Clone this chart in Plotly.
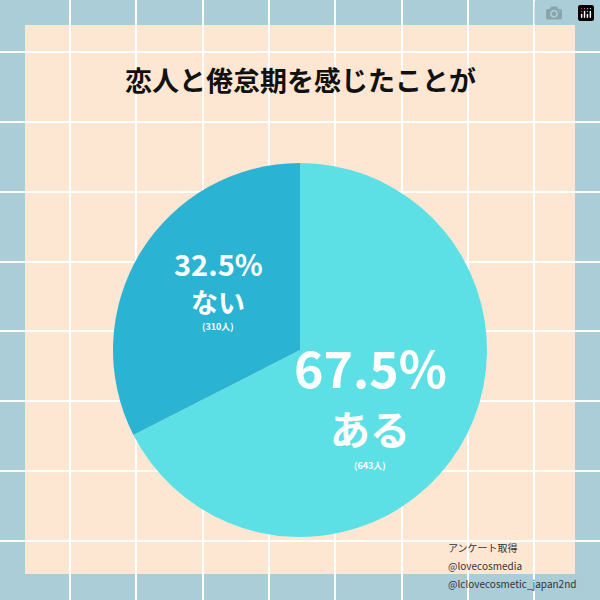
import plotly.graph_objects as go

labels = ["ある", "ない"]
values = [67.5, 32.5]
counts = ["643人", "310人"]
colors = ["#5ce0e6", "#2bb3d4"]
title = "恋人と倦怠期を感じたことが"
credits = ["アンケート取得", "@lovecosmedia", "@lclovecosmetic_japan2nd"]

W = H = 600
fig = go.Figure(go.Pie(labels=labels, values=values, sort=False, direction="clockwise",
                       rotation=0, marker=dict(colors=colors, line=dict(width=0)),
                       textinfo="none", hoverinfo="skip",
                       domain=dict(x=[113/W, 487/W], y=[1-538/H, 1-162/H])))
shapes = [dict(type="rect", xref="paper", yref="paper", x0=25/W, x1=575/W, y0=1-574/H, y1=1-25/H,
               fillcolor="#fde7d2", line=dict(width=0), layer="below")]
for gx in [70, 136, 203, 269, 335, 402, 468, 534]:
    shapes.append(dict(type="line", xref="paper", yref="paper", x0=gx/W, x1=gx/W, y0=0, y1=1,
                       line=dict(color="white", width=2), layer="below"))
for gy in [52, 122, 192, 262, 331, 401, 471, 541]:
    shapes.append(dict(type="line", xref="paper", yref="paper", x0=0, x1=1, y0=1-gy/H, y1=1-gy/H,
                       line=dict(color="white", width=2), layer="below"))
F = "Noto Sans CJK JP"
def t(x, y, s, size, color="white", anchor="center"):
    return dict(x=x/W, y=1-y/H, xref="paper", yref="paper", text=s, showarrow=False,
                xanchor=anchor, yanchor="middle", font=dict(family=F, size=size, color=color))
ann = [
    t(300, 80, "<b>%s</b>" % title, 27, "#111"),
    t(370, 366, "<b>%.1f%%</b>" % values[0], 50),
    t(370, 428, "<b>%s</b>" % labels[0], 40),
    t(370, 466, "<b>(%s)</b>" % counts[0], 9),
    t(218, 263, "<b>%.1f%%</b>" % values[1], 29),
    t(218, 301, "<b>%s</b>" % labels[1], 27),
    t(218, 326, "<b>(%s)</b>" % counts[1], 9),
]
for i, c in enumerate(credits):
    ann.append(t(446, 547 + 18*i, c, 10, "#333", "left"))
fig.update_layout(width=W, height=H, margin=dict(l=0, r=0, t=0, b=0), showlegend=False,
                  paper_bgcolor="#aacdd8", plot_bgcolor="#aacdd8", shapes=shapes, annotations=ann)
fig.write_html("out.html", post_script="document.body.style.margin='0';")
